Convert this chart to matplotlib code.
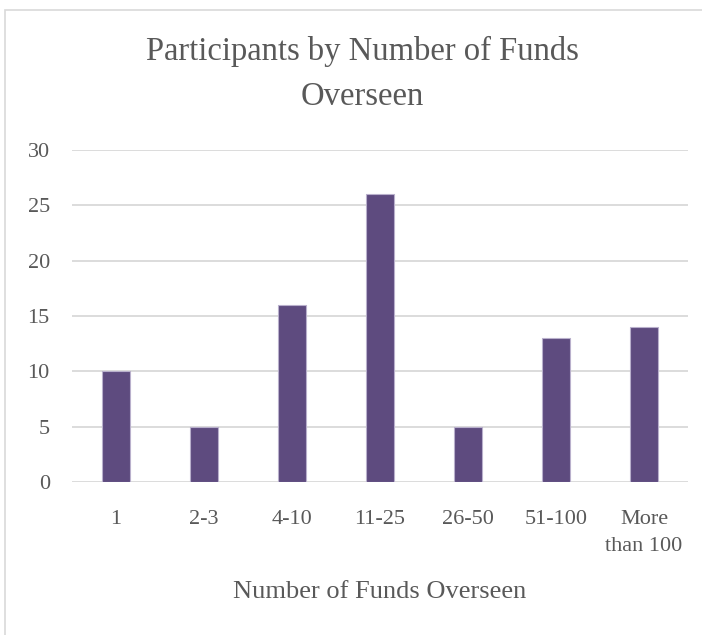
import matplotlib
matplotlib.use("Agg")
import matplotlib.pyplot as plt
from matplotlib.patches import Rectangle

categories = ["1", "2-3", "4-10", "11-25", "26-50", "51-100", "More\nthan 100"]
values = [10, 5, 16, 26, 5, 13, 14]
yticks = [0, 5, 10, 15, 20, 25, 30]

title = "Participants by Number of Funds\nOverseen"
xlabel = "Number of Funds Overseen"

font = "Liberation Serif"
text_color = "#595959"
bar_color = "#5E4B7F"
grid_color = "#d9d9d9"

fig = plt.figure(figsize=(7.02, 6.35), dpi=100)
ax = fig.add_axes([72/702, (635-482)/635, (688-72)/702, (482-150)/635])

x = list(range(len(categories)))
ax.bar(x, values, width=0.32, color=bar_color, edgecolor="#b9b0cc", linewidth=0.8, zorder=3)
ax.set_xlim(-0.5, len(categories) - 0.5)
ax.set_ylim(0, 30)
ax.set_yticks(yticks)
ax.set_xticks(x)
ax.set_xticklabels(categories, fontfamily=font, fontsize=16, color=text_color, linespacing=1.6)
ax.set_yticklabels([str(v) for v in yticks], fontfamily=font, fontsize=16, color=text_color)
ax.tick_params(axis="both", length=0)
ax.tick_params(axis="y", pad=16)
ax.tick_params(axis="x", pad=20)
for s in ax.spines.values():
    s.set_visible(False)
ax.grid(axis="y", color=grid_color, linewidth=1.3, zorder=0)
ax.set_axisbelow(True)

ax.set_xlabel(xlabel, fontfamily=font, fontsize=19, color=text_color, labelpad=18)

fig.text(362/702, 1 - 74/635, title, ha="center", va="center", fontfamily=font,
         fontsize=23.5, color=text_color, linespacing=1.6)

fig.patches.append(Rectangle((5/702, -0.1), 1.2, 1 - 10/635 + 0.1, transform=fig.transFigure,
                             fill=False, edgecolor="#d9d9d9", linewidth=1.2))

fig.savefig("out.png", dpi=100, facecolor="white")
